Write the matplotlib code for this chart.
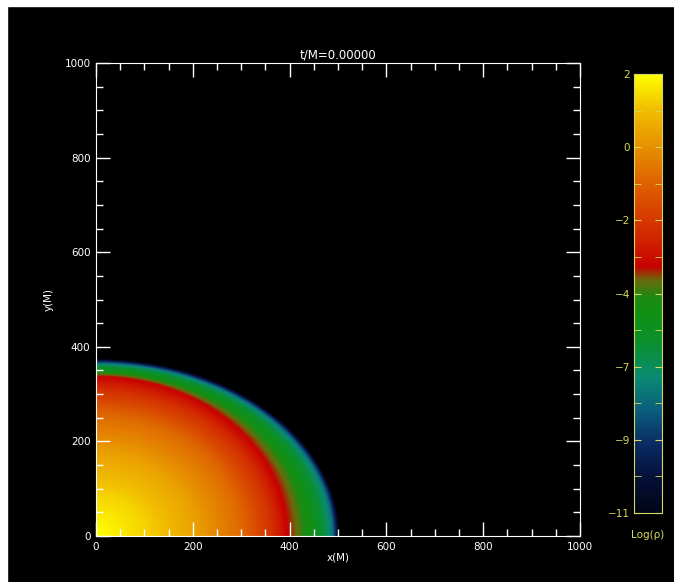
import numpy as np
import matplotlib
matplotlib.use('Agg')
import matplotlib.pyplot as plt
from matplotlib.colors import LinearSegmentedColormap
from matplotlib.patches import Rectangle

logrho_knots = [2.0, 1.3, 0.3, -1.1, -2.5, -3.7, -4.2, -5.0, -6.3, -7.5, -9.5, -11.5]
r_equator = [1.0, 100, 200, 300, 360, 395, 418, 442, 473, 489, 497, 503]
r_pole = [1.0, 85, 170, 255, 305, 337, 342, 348, 359, 365, 370, 375]

# colour table (value, colour) as seen on the colour bar
cbar_values = [-11, -10, -9, -8, -7, -6, -5, -4.6, -4.1, -3.7, -3.0, -2, -1, 0, 1, 2]
cbar_colors = ['#000616', '#061038', '#0a2a62', '#0c5c7e', '#0a8a74',
               '#0a9030', '#129012', '#1e8a14', '#6a6a0c', '#c80000',
               '#d02000', '#d84400', '#e06c00', '#e89600', '#f2c000', '#ffff00']
cbar_ticklabels = ['2', '0', '\u22122', '\u22124', '\u22127', '\u22129', '\u221211']

vmin, vmax = -11.0, 2.0


def density_field(x, y):
    """Nested ellipses through the equator/pole knots."""
    r = np.hypot(x, y)
    th = np.arctan2(y, x)
    c2, s2 = np.cos(th) ** 2, np.sin(th) ** 2
    a = np.array(r_equator)[:, None, None]
    b = np.array(r_pole)[:, None, None]
    R = a * b / np.sqrt(b ** 2 * c2 + a ** 2 * s2)
    v = np.full(r.shape, np.nan)
    v[r <= R[0]] = logrho_knots[0]
    for i in range(len(logrho_knots) - 1):
        m = (r > R[i]) & (r <= R[i + 1])
        f = (r[m] - R[i][m]) / (R[i + 1][m] - R[i][m])
        v[m] = logrho_knots[i] + f * (logrho_knots[i + 1] - logrho_knots[i])
    return v


def main():
    pos = [(v - vmin) / (vmax - vmin) for v in cbar_values]
    cmap = LinearSegmentedColormap.from_list('rho', list(zip(pos, cbar_colors)))
    cmap.set_under('black')
    cmap.set_bad('black')

    xs = np.linspace(0, 1000, 501)
    X, Y = np.meshgrid(xs, xs)
    field = density_field(X, Y)

    fig = plt.figure(figsize=(6.74, 5.82), dpi=100, facecolor='black')
    # white strips along the top and left edge of the original screenshot
    fig.patches.append(Rectangle((0, 1 - 6 / 582), 1, 6 / 582, transform=fig.transFigure,
                                 color='white', zorder=0))
    fig.patches.append(Rectangle((0, 0), 7 / 674, 1, transform=fig.transFigure,
                                 color='white', zorder=0))

    ax = fig.add_axes([96 / 674, 1 - 536 / 582, 484 / 674, 473 / 582])
    ax.set_facecolor('black')
    ax.imshow(field, origin='lower', extent=[0, 1000, 0, 1000], cmap=cmap,
              vmin=vmin, vmax=vmax, aspect='auto', interpolation='bilinear')
    ax.set_xlim(0, 1000)
    ax.set_ylim(0, 1000)
    ax.set_xticks(np.arange(0, 1001, 200))
    ax.set_yticks(np.arange(0, 1001, 200))
    ax.set_xticks(np.arange(0, 1001, 50), minor=True)
    ax.set_yticks(np.arange(0, 1001, 50), minor=True)
    ax.tick_params(which='both', direction='in', top=True, right=True,
                   colors='white', labelsize=7.5, width=1)
    ax.tick_params(which='major', length=10, pad=4)
    ax.tick_params(which='minor', length=5)
    for sp in ax.spines.values():
        sp.set_color('white')
    ax.set_title('t/M=0.00000', color='white', fontsize=8.5, pad=3)
    ax.set_xlabel('x(M)', color='white', fontsize=7.5, labelpad=1)
    ax.set_ylabel('y(M)', color='white', fontsize=7.5, labelpad=8)

    # colour bar
    yellow = '#d8d860'
    cax = fig.add_axes([634 / 674, 1 - 513 / 582, 28 / 674, 439 / 582])
    grad = np.linspace(vmin, vmax, 512)[:, None]
    cax.imshow(grad, origin='lower', extent=[0, 1, vmin, vmax], cmap=cmap,
               vmin=vmin, vmax=vmax, aspect='auto')
    cax.set_xlim(0, 1)
    cax.set_ylim(vmin, vmax)
    ticks = np.linspace(vmax, vmin, 7)
    cax.set_yticks(ticks)
    cax.set_yticklabels(cbar_ticklabels)
    cax.set_yticks((ticks[:-1] + ticks[1:]) / 2, minor=True)
    cax.set_xticks([])
    cax.tick_params(which='both', direction='in', left=True, right=True,
                    color=yellow, labelcolor=yellow, labelsize=7.5, length=5, pad=3)
    for sp in cax.spines.values():
        sp.set_color(yellow)
    fig.text(648 / 674, 1 - 535 / 582, 'Log(\u03c1)', color=yellow, fontsize=7.5,
             ha='center', va='center')

    fig.savefig('out.png', dpi=100, facecolor=fig.get_facecolor())


if __name__ == '__main__':
    main()
